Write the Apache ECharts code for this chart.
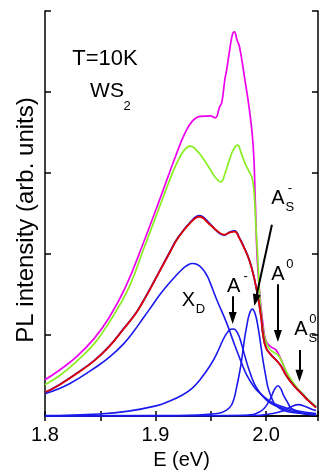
<!DOCTYPE html>
<html><head><meta charset="utf-8">
<script src="https://cdn.jsdelivr.net/npm/echarts@6/dist/echarts.min.js"></script>
<style>html,body{margin:0;padding:0;background:#fff}#c{width:321px;height:475px}</style>
</head><body><div id="c"></div>
<script>
// ---- data (E in eV, PL intensity in arb. units) ----
const xTickLabels = [1.8, 1.9, 2.0];

const magentaE = [1.800,1.8133,1.8284,1.8444,1.8578,1.8729,1.8889,1.9040,1.9182,1.9262,1.9333,1.9404,1.9493,1.9538,1.9582,1.9600,1.9627,1.9644,1.9671,1.9695,1.9713,1.9738,1.9760,1.9804,1.9849,1.9884,1.9902,1.9920,1.9947,1.9973,2.0000,2.0044,2.0089,2.0133,2.0178,2.0222,2.0293,2.0356,2.0418,2.0453];
const magentaI = [0.448,0.568,0.730,0.955,1.210,1.593,2.133,2.681,3.209,3.480,3.640,3.700,3.705,3.681,3.822,3.871,4.153,4.276,4.521,4.705,4.742,4.640,4.558,4.190,3.785,3.331,2.681,1.945,1.454,1.123,0.926,0.853,0.816,0.706,0.558,0.448,0.325,0.227,0.153,0.117];

const greenE = [1.800,1.8133,1.8284,1.8444,1.8578,1.8756,1.8889,1.9040,1.9111,1.9182,1.9253,1.9316,1.9378,1.9440,1.9493,1.9538,1.9591,1.9627,1.9671,1.9707,1.9742,1.9778,1.9813,1.9849,1.9876,1.9893,1.9911,1.9929,1.9938,1.9956,1.9982,2.0018,2.0062,2.0107,2.0151,2.0204,2.0267,2.0338,2.0400,2.0453];
const greenI = [0.387,0.500,0.672,0.890,1.150,1.577,2.050,2.595,2.853,3.090,3.270,3.331,3.270,3.160,3.049,2.951,2.890,2.988,3.172,3.294,3.344,3.233,3.110,3.012,2.926,2.742,2.276,1.859,1.577,1.270,1.000,0.853,0.791,0.755,0.644,0.497,0.374,0.264,0.178,0.117];

const dataE = [1.800,1.8133,1.8284,1.8444,1.8578,1.8711,1.8818,1.8889,1.8960,1.9022,1.9129,1.9200,1.9316,1.9396,1.9493,1.9556,1.9618,1.9671,1.9716,1.9760,1.9796,1.9849,1.9893,1.9929,1.9956,1.9973,2.0000,2.0044,2.0089,2.0133,2.0178,2.0222,2.0267,2.0329,2.0382,2.0453];
const dataI = [0.290,0.390,0.525,0.684,0.857,1.078,1.262,1.420,1.594,1.752,2.024,2.196,2.395,2.472,2.372,2.280,2.232,2.270,2.286,2.196,2.096,1.924,1.702,1.456,1.210,1.002,0.842,0.758,0.695,0.622,0.511,0.425,0.352,0.266,0.192,0.106];

const fitE = [1.800,1.8133,1.8284,1.8444,1.8578,1.8711,1.8818,1.8889,1.8960,1.9022,1.9129,1.9200,1.9316,1.9396,1.9493,1.9556,1.9618,1.9671,1.9716,1.9760,1.9796,1.9849,1.9893,1.9929,1.9956,1.9973,2.0000,2.0044,2.0089,2.0133,2.0178,2.0222,2.0267,2.0329,2.0382,2.0453];
const fitI = [0.288,0.387,0.521,0.681,0.853,1.074,1.258,1.416,1.589,1.748,2.018,2.190,2.387,2.460,2.362,2.288,2.239,2.264,2.276,2.190,2.092,1.920,1.699,1.454,1.209,1.000,0.840,0.755,0.693,0.620,0.509,0.423,0.350,0.264,0.190,0.104];

const xdE = [1.800,1.8222,1.8489,1.8596,1.8711,1.8800,1.8889,1.8978,1.9040,1.9111,1.9182,1.9244,1.9289,1.9333,1.9378,1.9422,1.9467,1.9493,1.9556,1.9644,1.9707,1.9778,1.9822,1.9884,1.9938,2.0027,2.0116,2.0267,2.0453];
const xdI = [0.276,0.399,0.630,0.742,0.890,1.040,1.209,1.380,1.500,1.620,1.728,1.815,1.862,1.883,1.871,1.822,1.730,1.650,1.429,1.147,0.910,0.656,0.515,0.374,0.288,0.190,0.129,0.067,0.031];

const amE = [1.800,1.8489,1.8756,1.9004,1.9111,1.9244,1.9333,1.9404,1.9493,1.9556,1.9609,1.9644,1.9680,1.9707,1.9742,1.9778,1.9813,1.9849,1.9893,1.9938,2.0000,2.0062,2.0178,2.0293,2.0453];
const amI = [0.005,0.025,0.060,0.125,0.175,0.260,0.345,0.450,0.620,0.775,0.935,1.020,1.070,1.074,1.025,0.890,0.718,0.558,0.399,0.301,0.202,0.141,0.080,0.043,0.018];

const asmE = [1.800,1.9200,1.9378,1.9511,1.9600,1.9671,1.9707,1.9733,1.9760,1.9778,1.9804,1.9822,1.9849,1.9876,1.9902,1.9929,1.9956,1.9973,2.0000,2.0018,2.0053,2.0089,2.0160,2.0240,2.0453];
const asmI = [0.002,0.006,0.012,0.025,0.043,0.104,0.202,0.350,0.534,0.681,0.939,1.086,1.258,1.319,1.258,1.086,0.840,0.681,0.472,0.350,0.215,0.129,0.067,0.043,0.018];

const a0E = [1.800,1.9733,1.9884,1.9929,1.9973,2.0009,2.0044,2.0071,2.0107,2.0133,2.0160,2.0196,2.0222,2.0267,2.0329,2.0453];
const a0I = [0.000,0.006,0.018,0.043,0.080,0.141,0.227,0.313,0.374,0.337,0.252,0.166,0.104,0.067,0.031,0.012];

const as0E = [1.800,1.9911,2.0062,2.0133,2.0178,2.0231,2.0293,2.0356,2.0418,2.0453];
const as0I = [0.000,0.006,0.031,0.055,0.080,0.117,0.141,0.117,0.080,0.067];

// annotation anchors (data coords)
const peakLabels = [
  {main:'X', sub:'D', sup:'',  at:[1.9298,1.429]},
  {main:'A', sub:'',  sup:'-', at:[1.9707,1.601]},
  {main:'A', sub:'S', sup:'-', at:[2.0107,2.681]},
  {main:'A', sub:'',  sup:'0', at:[2.0107,1.748]},
  {main:'A', sub:'S', sup:'0', at:[2.0315,1.074]}
];
const arrows = [
  [[1.9698,1.479],[1.9698,1.209]],
  [[2.0053,2.362],[1.9905,1.429]],
  [[2.0107,1.626],[2.0107,0.988]],
  [[2.0302,0.816],[2.0302,0.497]]
];

const zip = (e, v) => e.map((x, i) => [x, v[i]]);
const FONT = '"Liberation Sans", Arial, sans-serif';
const BLUE = '#1a1aee';

const chart = echarts.init(document.getElementById('c'), null, {renderer:'canvas'});

function line(name, e, v, color, w, z) {
  return {name, type:'line', data: zip(e, v), showSymbol:false, smooth:0.45,
    lineStyle:{color, width:w}, itemStyle:{color}, z, silent:true, animation:false, clip:true};
}

const axisCommon = {
  type:'value', min:1.8, max:2.047, interval:0.05,
  axisLine:{show:true, lineStyle:{color:'#000', width:1.5}},
  axisTick:{show:true, inside:true, length:5, lineStyle:{color:'#000', width:1.5}},
  splitLine:{show:false}
};

const a0Series = line('A0', a0E, a0I, BLUE, 1.6, 5);
a0Series.markLine = {
  silent:true, animation:false, symbol:['none','triangle'], symbolSize:[8,12],
  lineStyle:{color:'#000', width:2, type:'solid'}, label:{show:false},
  emphasis:{disabled:true},
  data: arrows.map(a => [{coord:a[0]},{coord:a[1]}])
};

chart.setOption({
  animation:false,
  backgroundColor:'#fff',
  grid:{left:45, right:-2, top:11, bottom:56.5, containLabel:false},
  xAxis:[
    Object.assign({}, axisCommon, {position:'bottom',
      axisLabel:{show:true, margin:9, fontSize:20, fontFamily:FONT, color:'#000',
        formatter: v => { const r = Math.round(v*100)/100; return xTickLabels.some(t => Math.abs(t-r) < 1e-6) ? r.toFixed(1) : ''; }},
      name:'E (eV)', nameLocation:'middle', nameGap:34,
      nameTextStyle:{fontSize:20, fontFamily:FONT, color:'#000'}}),
    Object.assign({}, axisCommon, {position:'top', axisLabel:{show:false}})
  ],
  yAxis:[
    {type:'value', min:0, max:5, interval:1, position:'left',
      axisLine:{show:true, lineStyle:{color:'#000', width:1.5}},
      axisTick:{show:true, inside:true, length:6, lineStyle:{color:'#000', width:1.5}},
      axisLabel:{show:false}, splitLine:{show:false}},
    {type:'value', min:0, max:5, interval:1, position:'right',
      axisLine:{show:true, lineStyle:{color:'#000', width:1.5}},
      axisTick:{show:true, inside:true, length:6, lineStyle:{color:'#000', width:1.5}},
      axisLabel:{show:false}, splitLine:{show:false}}
  ],
  series:[
    line('magenta', magentaE, magentaI, '#ee00ee', 1.7, 2),
    line('green', greenE, greenI, '#88ee22', 1.7, 2),
    line('data', dataE, dataI, BLUE, 1.8, 3),
    line('fit', fitE, fitI, '#e00000', 1.8, 4),
    line('XD', xdE, xdI, BLUE, 1.6, 5),
    line('Am', amE, amI, BLUE, 1.6, 5),
    line('ASm', asmE, asmI, BLUE, 1.6, 5),
    a0Series,
    line('AS0', as0E, as0I, BLUE, 1.6, 5)
  ]
});

// ---- text annotations ----
const g = [];
function txt(t, x, y, size, extra) {
  return Object.assign({type:'text', x, y, z:100, silent:true,
    style:{text:t, fill:'#000', font:size+'px '+FONT, align:'center', verticalAlign:'middle'}}, extra||{});
}
g.push(txt('PL intensity (arb. units)', 26, 220, 24, {rotation:Math.PI/2}));
g.push(txt('T=10K', 105, 59, 22));
g.push(txt('WS', 107, 91, 21));
g.push(txt('2', 127, 106, 13));
peakLabels.forEach(p => {
  const [px, py] = chart.convertToPixel({xAxisIndex:0, yAxisIndex:0}, p.at);
  g.push(txt(p.main, px, py, 20));
  if (p.sup) g.push(txt(p.sup, px + 12, py - 10, 13));
  if (p.sub) g.push(txt(p.sub, px + 12, py + 9, 13));
});
chart.setOption({graphic:g});
</script></body></html>
